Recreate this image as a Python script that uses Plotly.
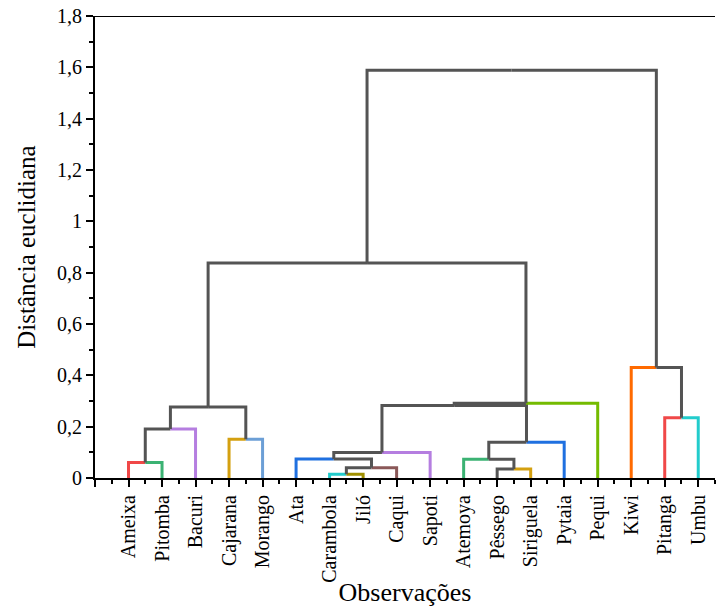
import plotly.graph_objects as go

# ---------------- data ----------------
leaves = ["Ameixa", "Pitomba", "Bacuri", "Cajarana", "Morango", "Ata", "Carambola",
          "Jiló", "Caqui", "Sapoti", "Atemoya", "Pêssego", "Siriguela", "Pytaia",
          "Pequi", "Kiwi", "Pitanga", "Umbu"]
leaf_colors = ["#F04848", "#3BB273", "#B57EE0", "#D4A010", "#6C9FD6", "#1F70E0",
               "#22CCCC", "#A09000", "#8A5858", "#B57EE0", "#3BB273", "#555555",
               "#D4A010", "#1F70E0", "#74BB00", "#FF6A00", "#F04848", "#22CCCC"]

# linkage: merge k joins merge_left[k] and merge_right[k] at merge_height[k]
merge_left = ["Ameixa", "M0", "Cajarana", "M1", "Carambola", "M4", "Ata", "M6",
              "Pêssego", "Atemoya", "M9", "M7", "M11", "M3", "Pitanga", "Kiwi", "M13"]
merge_right = ["Pitomba", "Bacuri", "Morango", "M2", "Jiló", "Caqui", "M5", "Sapoti",
               "Siriguela", "M8", "Pytaia", "M10", "Pequi", "M12", "Umbu", "M14", "M15"]
merge_height = [0.060, 0.191, 0.151, 0.277, 0.015, 0.040, 0.074, 0.099,
                0.035, 0.073, 0.139, 0.282, 0.291, 0.838, 0.235, 0.431, 1.589]

y_tickvals = [0, 0.2, 0.4, 0.6, 0.8, 1.0, 1.2, 1.4, 1.6, 1.8]
y_ticktext = ["0", "0,2", "0,4", "0,6", "0,8", "1", "1,2", "1,4", "1,6", "1,8"]

GRAY = "#545454"
FONT = "Liberation Serif, Times New Roman, serif"

# ---------------- build dendrogram ----------------
pos = {name: i + 1 for i, name in enumerate(leaves)}
hgt = {name: 0.0 for name in leaves}
col = {name: c for name, c in zip(leaves, leaf_colors)}

fig = go.Figure()


def node_color(n):
    return col[n] if n in col else GRAY


for k, (a, b, h) in enumerate(zip(merge_left, merge_right, merge_height)):
    xa, xb = pos[a], pos[b]
    xm = (xa + xb) / 2
    fig.add_trace(go.Scatter(x=[xa, xa, xm], y=[hgt[a], h, h], mode="lines",
                             line=dict(color=node_color(a), width=3),
                             hoverinfo="skip", showlegend=False))
    fig.add_trace(go.Scatter(x=[xm, xb, xb], y=[h, h, hgt[b]], mode="lines",
                             line=dict(color=node_color(b), width=3),
                             hoverinfo="skip", showlegend=False))
    name = f"M{k}"
    pos[name] = xm
    hgt[name] = h

fig.add_shape(type="line", xref="paper", x0=0, x1=1, yref="y", y0=1.8, y1=1.8,
              line=dict(color="black", width=2))

fig.update_layout(
    width=720, height=607,
    margin=dict(l=95, r=5, t=16, b=129),
    paper_bgcolor="white", plot_bgcolor="white",
    font=dict(family=FONT, size=20, color="black"),
    xaxis=dict(
        range=[0, 18.5], showgrid=False, zeroline=False,
        showline=True, linecolor="black", linewidth=2,
        tickmode="array", tickvals=list(range(0, 19)), ticktext=[""] + leaves,
        tickangle=-90, ticks="outside", ticklen=7, tickwidth=2, tickcolor="black",
        tickfont=dict(family=FONT, size=20),
        minor=dict(tickmode="linear", tick0=0, dtick=0.5, ticks="outside",
                   ticklen=4, tickwidth=2, tickcolor="black"),
        title=dict(text="Observações", font=dict(family=FONT, size=26), standoff=2),
    ),
    yaxis=dict(
        range=[0, 1.8], showgrid=False, zeroline=False,
        showline=True, linecolor="black", linewidth=2,
        tickmode="array", tickvals=y_tickvals, ticktext=y_ticktext,
        ticks="outside", ticklen=7, tickwidth=2, tickcolor="black",
        tickfont=dict(family=FONT, size=20),
        minor=dict(tickmode="linear", tick0=0, dtick=0.1, ticks="outside",
                   ticklen=4, tickwidth=2, tickcolor="black"),
        title=dict(text="Distância euclidiana", font=dict(family=FONT, size=25), standoff=14),
    ),
)

fig.write_html("out.html")
